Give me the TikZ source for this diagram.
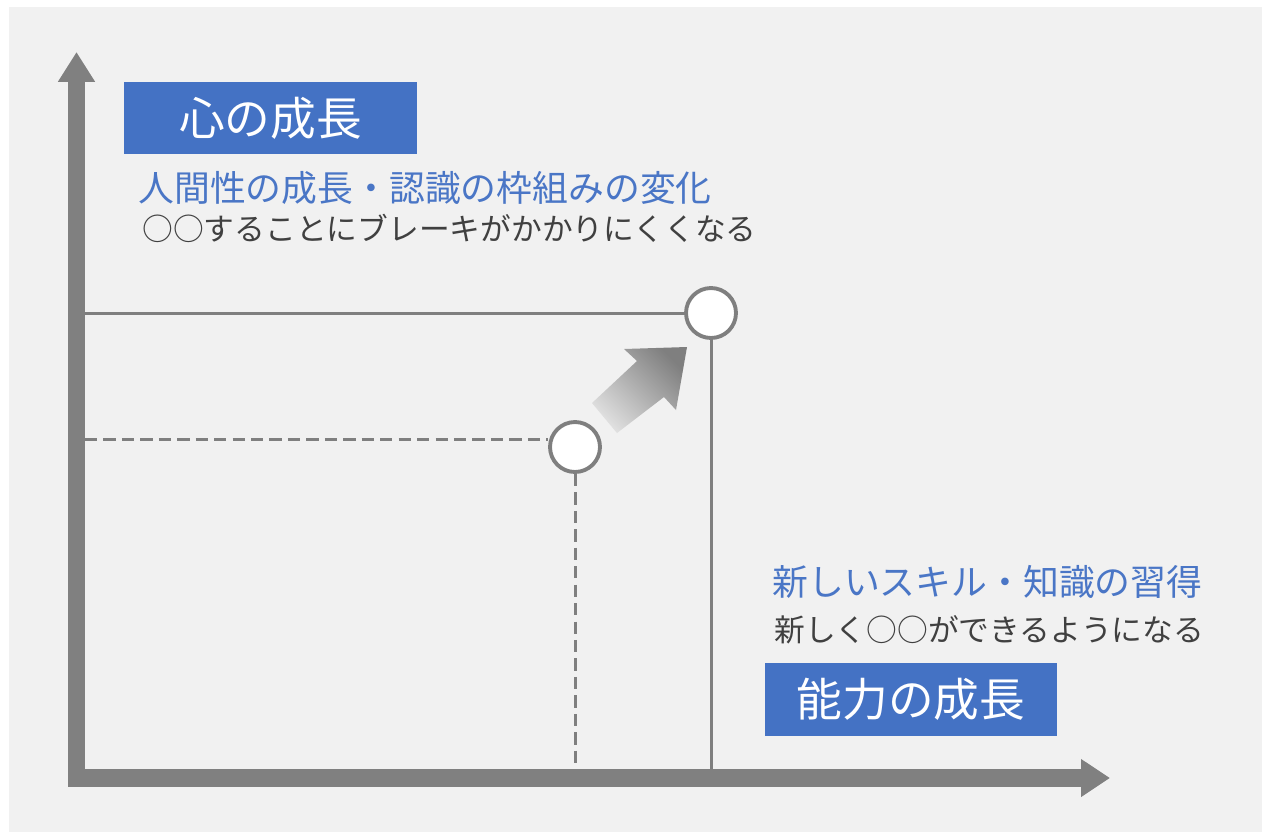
\documentclass[tikz,border=0pt]{standalone}
\usepackage{fontspec}
\setmainfont{Noto Sans CJK JP}
\usetikzlibrary{arrows.meta}
\definecolor{axisgray}{HTML}{808080}
\definecolor{linegray}{HTML}{7F7F7F}
\definecolor{boxblue}{HTML}{4472C4}
\definecolor{textblue}{HTML}{4A76C6}
\definecolor{textgray}{HTML}{404040}
\definecolor{panel}{HTML}{F1F1F1}

\begin{document}
\begin{tikzpicture}[x=0.02cm, y=-0.02cm,
    headbox/.style={fill=boxblue, text=white, minimum width=5.86cm, minimum height=1.45cm, inner sep=0pt, font=\fontsize{26}{30}\selectfont},
    bluetext/.style={anchor=west, inner sep=0pt, text=textblue, font=\fontsize{20.4}{24}\selectfont},
    graytext/.style={anchor=west, inner sep=0pt, text=textgray, font=\fontsize{17.5}{21}\selectfont},
    pointdot/.style={circle, draw=linegray, line width=2.2pt, fill=white, minimum size=1cm, inner sep=0pt},
    guideline/.style={draw=linegray, line width=1.7pt}]
    \useasboundingbox (0,0) rectangle (1267,836);
    \fill[white] (0,0) rectangle (1267,836);
    \fill[panel] (9,7) rectangle (1262,832);

    % axes
    \coordinate (O) at (76.5,778); \coordinate (ytip) at (76.5,52); \coordinate (xtip) at (1110,778);
    \coordinate (y1) at (85,439); \coordinate (y2) at (85,313);

    % before / after points
    \node[pointdot] (c1) at (575,447) {}; \node[pointdot] (c2) at (711,313) {};
    \draw[guideline] (y2) -- (y2 -| c2.west);
    \draw[guideline] (c2.south) -- (c2.south |- O);
    \draw[guideline, dash pattern=on 7pt off 3.5pt] (y1) -- (y1 -| c1.west);
    \draw[guideline, dash pattern=on 7pt off 3.5pt] (c1.south) -- (c1.south |- O);

    \draw[axisgray, line width=9.7pt, line join=miter, {Triangle[width=20pt,length=17pt]}-{Triangle[width=20.5pt,length=16.5pt]}] (ytip) -- (O) -- (xtip);

    % growth arrow
    \shade[top color=linegray, bottom color=gray!25, shading angle=-45] (592,403) -- (637,361) -- (624,349) -- (687,347) -- (676,410) -- (664,397) -- (617,433) -- cycle;

    % labels
    \node[headbox] (mind) at (270.5,118) {心の成長};
    \node[bluetext] (mindsub) at (138,188) {人間性の成長・認識の枠組みの変化};
    \node[graytext] (mindnote) at (142,228) {○○することにブレーキがかかりにくくなる};
    \node[bluetext] (skillsub) at (772,582) {新しいスキル・知識の習得};
    \node[graytext] (skillnote) at (774,630) {新しく○○ができるようになる};
    \node[headbox] (skill) at (911,699.5) {能力の成長};
\end{tikzpicture}
\end{document}
